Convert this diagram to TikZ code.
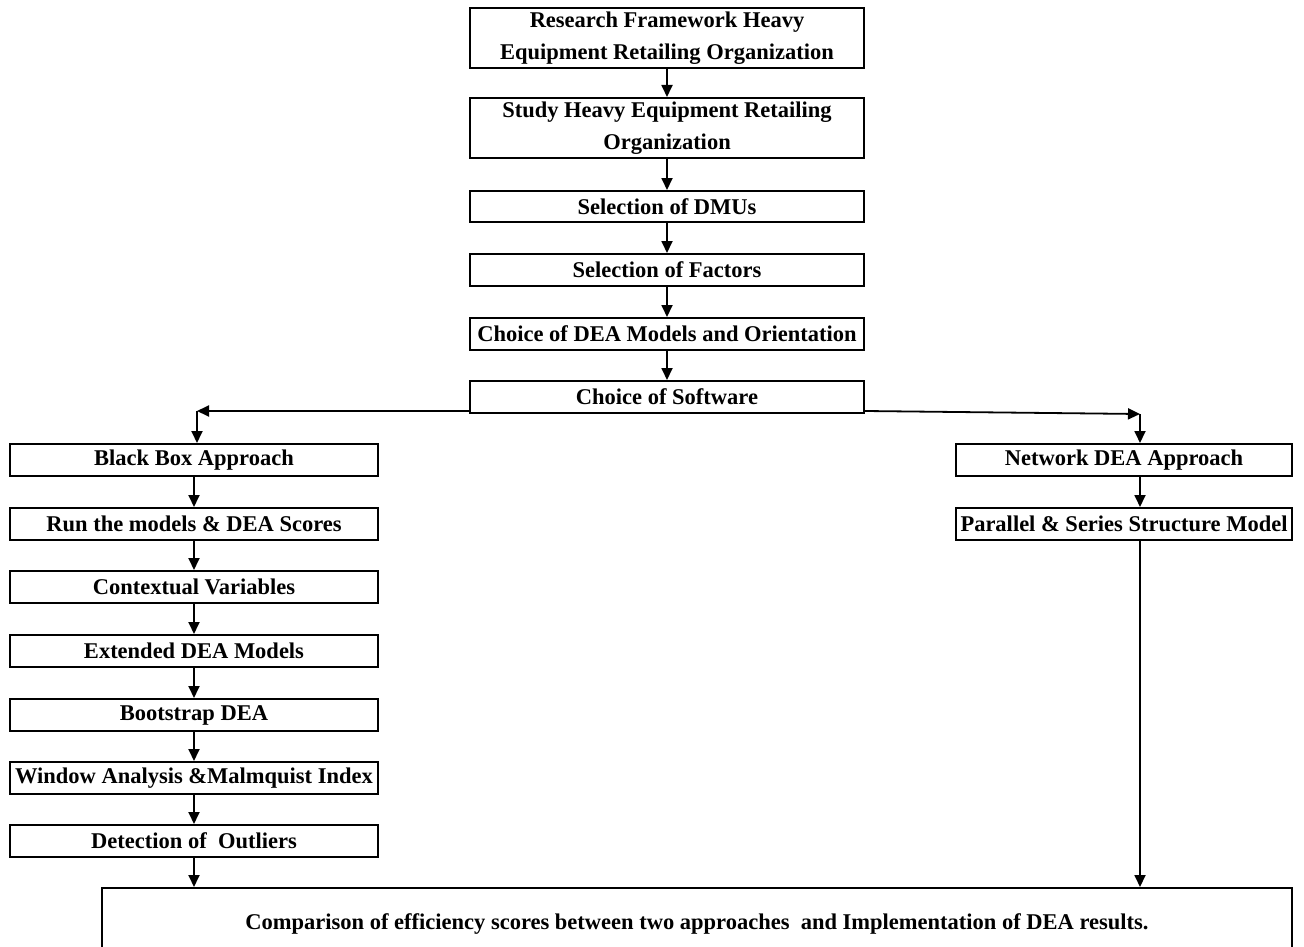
\documentclass[tikz,border=0pt]{standalone}
\usepackage{fontspec}
\setmainfont{Liberation Serif}
\usetikzlibrary{arrows.meta}
\begin{document}
\begin{tikzpicture}[x=1pt,y=-1pt,
  stepbox/.style={draw, line width=2pt, inner sep=0pt, align=center,
    font=\fontsize{22.5}{32}\selectfont\bfseries},
  midbox/.style={stepbox, minimum width=394pt},
  sidebox/.style={stepbox, minimum width=368pt, minimum height=32pt},
  netbox/.style={stepbox, minimum width=336pt, minimum height=32pt},
  arr/.style={line width=1.8pt, -{Triangle[length=12pt,width=11pt]}},
  link/.style={line width=1.8pt}]
\useasboundingbox (0,0) rectangle (1304,947);
\clip (0,0) rectangle (1304,947);
% central column
\node[midbox, minimum height=60pt] (n1) at (667,38) {Research Framework Heavy\\Equipment Retailing Organization};
\node[midbox, minimum height=60pt] (n2) at (667,128) {Study Heavy Equipment Retailing\\Organization};
\node[midbox, minimum height=31pt] (n3) at (667,206.5) {Selection of DMUs};
\node[midbox, minimum height=32pt] (n4) at (667,270) {Selection of Factors};
\node[midbox, minimum height=32pt] (n5) at (667,334) {Choice of DEA Models and Orientation};
\node[midbox, minimum height=32pt] (sw) at (667,397) {Choice of Software};
% black box branch
\node[sidebox] (b1) at (194,460) {Black Box Approach};
\node[sidebox] (b2) at (194,524) {Run the models \& DEA Scores};
\node[sidebox] (b3) at (194,587) {Contextual Variables};
\node[sidebox] (b4) at (194,651) {Extended DEA Models};
\node[sidebox] (b5) at (194,715) {Bootstrap DEA};
\node[sidebox] (b6) at (194,778) {Window Analysis \&Malmquist Index};
\node[sidebox] (b7) at (194,841) {Detection of\ \ Outliers};
% network branch
\node[netbox] (r1) at (1124,460) {Network DEA Approach};
\node[netbox] (r2) at (1124,524) {Parallel \& Series Structure Model};
% final comparison
\node[stepbox, minimum width=1190pt, minimum height=72pt, anchor=north] (cmp) at (697,887)
  {Comparison of efficiency scores between two approaches\ \ and Implementation of DEA results.};
% flow arrows
\draw[arr] (n1) -- (n2);
\draw[arr] (n2) -- (n3);
\draw[arr] (n3) -- (n4);
\draw[arr] (n4) -- (n5);
\draw[arr] (n5) -- (sw);
\coordinate (lj) at (197,411);
\coordinate (rj) at (1140,414);
\draw[arr] ([yshift=-14pt]sw.west) -- (lj);
\draw[arr] (lj) -- (lj |- b1.north);
\draw[arr] ([yshift=-14pt]sw.east) -- (rj);
\draw[arr] (rj) -- (rj |- r1.north);
\draw[arr] (b1) -- (b2);
\draw[arr] (b2) -- (b3);
\draw[arr] (b3) -- (b4);
\draw[arr] (b4) -- (b5);
\draw[arr] (b5) -- (b6);
\draw[arr] (b6) -- (b7);
\draw[arr] ([xshift=16pt]r1.south) -- ([xshift=16pt]r2.north);
\draw[arr] ([xshift=16pt]r2.south) -- ([xshift=16pt]r2.south |- cmp.north);
\draw[arr] (b7.south) -- (b7.south |- cmp.north);
\end{tikzpicture}
\end{document}
